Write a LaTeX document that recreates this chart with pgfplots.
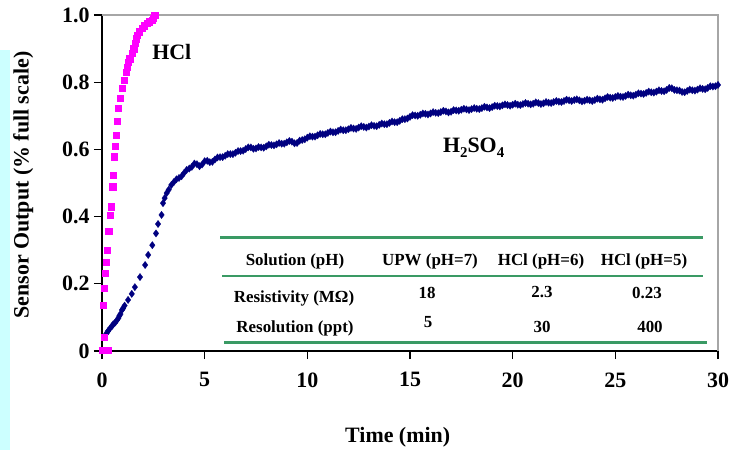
\documentclass[border=0pt]{standalone}
\usepackage{pgfplots}
\pgfplotsset{compat=1.18}
\usepackage{fontspec}
\setmainfont{Liberation Serif}
\definecolor{hclmag}{RGB}{255,0,255}
\definecolor{navyb}{RGB}{0,0,128}
\definecolor{tabgreen}{RGB}{58,154,100}
\definecolor{stripcyan}{RGB}{204,255,255}
\newcommand\bigf{\fontsize{22}{26}\selectfont\bfseries}
\newcommand\tabf{\fontsize{17}{20}\selectfont\bfseries}
\newcommand\sub[1]{\raisebox{-0.45ex}{\fontsize{15}{15}\selectfont #1}}
\begin{document}
\begin{tikzpicture}
\useasboundingbox (0,0) rectangle (732bp,450bp);
\fill[stripcyan] (0,0) rectangle (10bp,400bp);
\begin{axis}[
  at={(102bp,99bp)}, anchor=south west,
  scale only axis, width=616bp, height=336bp,
  xmin=0, xmax=30, ymin=0, ymax=1,
  axis x line*=bottom, axis y line*=left,
  axis line style={black, line width=1.2bp, -},
  tick align=outside, major tick length=8bp,
  tick style={black, line width=1.2bp},
  xtick={0,5,10,15,20,25,30},
  ytick={0,0.2,0.4,0.6,0.8,1.0},
  yticklabels={0,0.2,0.4,0.6,0.8,1.0},
  tick label style={font=\bigf},
  xticklabel style={yshift=-10bp},
  yticklabel style={xshift=-1bp},
  /pgf/number format/assume math mode=true,
  xlabel={Time (min)}, ylabel={Sensor Output (\% full scale)},
  label style={font=\bigf},
  xlabel style={at={(axis description cs:0.48,-0.256)}, anchor=center},
  ylabel style={at={(axis description cs:-0.128,0.494)}, anchor=center},
  clip=false,
]
\draw[gray!70, line width=1.2bp] (rel axis cs:0,1) -- (rel axis cs:1,1) -- (rel axis cs:1,0);
\addplot[only marks, mark=diamond*, mark size=3.7bp, color=navyb, mark options={line width=0.2bp}] coordinates {
(0.10,0.042) (0.15,0.045) (0.25,0.055) (0.30,0.060) (0.40,0.068) (0.50,0.075) (0.55,0.080) (0.65,0.085)
(0.73,0.092) (0.80,0.098) (0.85,0.105) (0.90,0.110) (0.97,0.122) (1.03,0.127) (1.10,0.135) (1.27,0.152)
(1.45,0.170) (1.60,0.190) (1.85,0.220) (2.10,0.256) (2.25,0.286) (2.45,0.315) (2.63,0.350) (2.73,0.378)
(2.90,0.405) (2.97,0.440) (3.05,0.455) (3.15,0.470)
(3.25,0.480) (3.50,0.503) (3.75,0.515) (4.00,0.530) (4.25,0.543) (4.50,0.558) (4.75,0.550) (5.00,0.565)
(5.25,0.562) (5.50,0.570) (5.75,0.577) (6.00,0.581) (6.25,0.586) (6.50,0.590) (6.75,0.595) (7.00,0.601)
(7.25,0.606) (7.50,0.603) (7.75,0.606) (8.00,0.609) (8.25,0.613) (8.50,0.615) (8.75,0.617) (9.00,0.621)
(9.25,0.623) (9.50,0.619) (9.75,0.628) (10.00,0.635) (10.25,0.638) (10.50,0.642) (10.75,0.645) (11.00,0.649)
(11.25,0.651) (11.50,0.655) (11.75,0.657) (12.00,0.660) (12.25,0.662) (12.50,0.665) (12.75,0.667) (13.00,0.668)
(13.25,0.670) (13.50,0.673) (13.75,0.675) (14.00,0.679) (14.25,0.681) (14.50,0.685) (14.75,0.690) (15.00,0.697)
(15.25,0.701) (15.50,0.703) (15.75,0.706) (16.00,0.707) (16.25,0.709) (16.50,0.711) (16.75,0.713) (17.00,0.712)
(17.25,0.716) (17.50,0.718) (17.75,0.719) (18.00,0.720) (18.25,0.721) (18.50,0.723) (18.75,0.725) (19.00,0.726)
(19.25,0.729) (19.50,0.731) (19.75,0.732) (20.00,0.733) (20.25,0.733) (20.50,0.735) (20.75,0.736) (21.00,0.736)
(21.25,0.738) (21.50,0.737) (21.75,0.739) (22.00,0.741) (22.25,0.742) (22.50,0.744) (22.75,0.746) (23.00,0.747)
(23.25,0.746) (23.50,0.745) (23.75,0.746) (24.00,0.747) (24.25,0.749) (24.50,0.752) (24.75,0.754) (25.00,0.756)
(25.25,0.757) (25.50,0.759) (25.75,0.761) (26.00,0.763) (26.25,0.766) (26.50,0.768) (26.75,0.770) (27.00,0.772)
(27.25,0.774) (27.50,0.777) (27.75,0.782) (28.00,0.776) (28.25,0.771) (28.50,0.774) (28.75,0.776) (29.00,0.778)
(29.25,0.780) (29.50,0.783) (29.75,0.787) (30.00,0.792)
(3.375,0.494) (3.625,0.511) (3.875,0.520) (4.125,0.539) (4.375,0.548) (4.625,0.556) (4.875,0.555) (5.125,0.566)
(5.375,0.563) (5.625,0.576) (5.875,0.577) (6.125,0.586) (6.375,0.586) (6.625,0.595) (6.875,0.596) (7.125,0.606)
(7.375,0.602) (7.625,0.607) (7.875,0.605) (8.125,0.614) (8.375,0.612) (8.625,0.619) (8.875,0.617) (9.125,0.625)
(9.375,0.618) (9.625,0.626) (9.875,0.630) (10.125,0.639) (10.375,0.638) (10.625,0.646) (10.875,0.645) (11.125,0.653)
(11.375,0.651) (11.625,0.659) (11.875,0.657) (12.125,0.664) (12.375,0.661) (12.625,0.669) (12.875,0.665) (13.125,0.672)
(13.375,0.669) (13.625,0.677) (13.875,0.675) (14.125,0.683) (14.375,0.681) (14.625,0.690) (14.875,0.692) (15.125,0.702)
(15.375,0.700) (15.625,0.707) (15.875,0.704) (16.125,0.711) (16.375,0.708) (16.625,0.715) (16.875,0.710) (17.125,0.717)
(17.375,0.715) (17.625,0.721) (17.875,0.717) (18.125,0.723) (18.375,0.720) (18.625,0.727) (18.875,0.723) (19.125,0.730)
(19.375,0.728) (19.625,0.734) (19.875,0.730) (20.125,0.736) (20.375,0.732) (20.625,0.738) (20.875,0.734) (21.125,0.740)
(21.375,0.735) (21.625,0.741) (21.875,0.738) (22.125,0.744) (22.375,0.741) (22.625,0.748) (22.875,0.744) (23.125,0.749)
(23.375,0.743) (23.625,0.748) (23.875,0.744) (24.125,0.751) (24.375,0.748) (24.625,0.756) (24.875,0.753) (25.125,0.759)
(25.375,0.756) (25.625,0.763) (25.875,0.760) (26.125,0.767) (26.375,0.765) (26.625,0.772) (26.875,0.769) (27.125,0.776)
(27.375,0.773) (27.625,0.783) (27.875,0.777) (28.125,0.775) (28.375,0.770) (28.625,0.778) (28.875,0.775) (29.125,0.782)
(29.375,0.779) (29.625,0.788) (29.875,0.788)
};
\addplot[only marks, mark=square*, mark size=3.2bp, color=hclmag, mark options={line width=0.2bp}] coordinates {
(0.00,0.003) (0.10,0.003) (0.20,0.003) (0.30,0.003) (0.10,0.042) (0.05,0.137) (0.10,0.187) (0.15,0.232)
(0.20,0.265) (0.25,0.300) (0.33,0.357) (0.39,0.405) (0.44,0.430) (0.52,0.489) (0.54,0.524) (0.58,0.578)
(0.63,0.610) (0.68,0.643) (0.73,0.685) (0.78,0.723) (0.88,0.753) (0.97,0.783) (1.07,0.807) (1.17,0.830)
(1.22,0.845) (1.27,0.860) (1.35,0.870) (1.46,0.887) (1.53,0.900) (1.60,0.917) (1.65,0.930) (1.70,0.940)
(1.80,0.950) (1.95,0.961) (2.05,0.968) (2.20,0.976) (2.30,0.980) (2.43,0.985) (2.50,0.990) (2.53,1.000) (2.57,1.000)
};
\node[font=\bigf] at (axis cs:3.4,0.89) {HCl};
\node[font=\bigf] at (axis cs:18.1,0.605) {H\sub{2}SO\sub{4}};
\end{axis}
% table
\draw[tabgreen, line width=3bp] (220bp,212bp) -- (703bp,212bp);
\draw[tabgreen, line width=1.6bp] (222bp,174bp) -- (703bp,174bp);
\draw[tabgreen, line width=3bp] (224bp,107bp) -- (707bp,107bp);
\node[font=\tabf] at (295bp,189bp) {Solution (pH)};
\node[font=\tabf] at (430bp,189bp) {UPW (pH=7)};
\node[font=\tabf] at (541bp,189bp) {HCl (pH=6)};
\node[font=\tabf] at (644bp,189bp) {HCl (pH=5)};
\node[font=\tabf] at (294bp,152bp) {Resistivity (MΩ)};
\node[font=\tabf] at (427bp,157bp) {18};
\node[font=\tabf] at (542bp,158bp) {2.3};
\node[font=\tabf] at (647bp,157bp) {0.23};
\node[font=\tabf] at (295bp,122bp) {Resolution (ppt)};
\node[font=\tabf] at (428bp,128bp) {5};
\node[font=\tabf] at (542bp,123bp) {30};
\node[font=\tabf] at (650bp,123bp) {400};
\end{tikzpicture}
\end{document}
